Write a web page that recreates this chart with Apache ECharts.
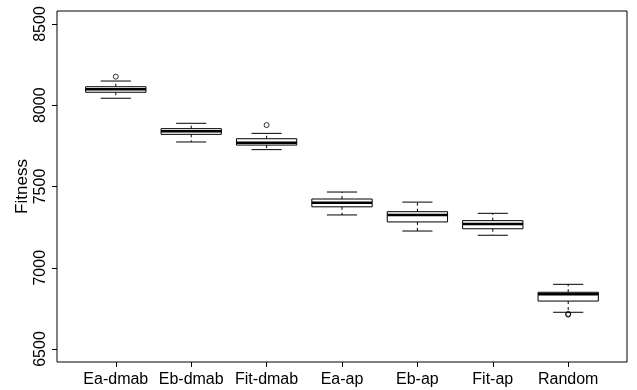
<!DOCTYPE html>
<html>
<head>
<meta charset="utf-8">
<script src="https://cdn.jsdelivr.net/npm/echarts@6/dist/echarts.min.js"></script>
<style>html,body{margin:0;padding:0;background:#fff}#c{width:637px;height:390px}</style>
</head>
<body>
<div id="c"></div>
<script>
// Data
const categories = ['Ea-dmab', 'Eb-dmab', 'Fit-dmab', 'Ea-ap', 'Eb-ap', 'Fit-ap', 'Random'];
const lowerWhisker = [8043, 7774, 7727, 7325, 7226, 7200, 6726];
const q1Values     = [8080, 7821, 7755, 7375, 7282, 7240, 6795];
const medianValues = [8098, 7840, 7770, 7400, 7325, 7270, 6837];
const q3Values     = [8114, 7856, 7794, 7423, 7345, 7290, 6849];
const upperWhisker = [8149, 7889, 7827, 7466, 7404, 7335, 6898];
const outlierCat   = [1, 3, 7, 7];
const outlierVal   = [8176, 7878, 6711, 6716];
const yTicks = [6500, 7000, 7500, 8000, 8500];
const xTicks = [1, 2, 3, 4, 5, 6, 7];

const boxData = categories.map((c, i) => [i + 1, lowerWhisker[i], q1Values[i], medianValues[i], q3Values[i], upperWhisker[i]]);
const outlierData = outlierCat.map((c, i) => [c, outlierVal[i]]);

const FONT = '"Liberation Sans", Arial, sans-serif';

function renderBox(params, api) {
  const x = api.value(0);
  const lo = api.coord([x, api.value(1)]);
  const q1 = api.coord([x, api.value(2)]);
  const md = api.coord([x, api.value(3)]);
  const q3 = api.coord([x, api.value(4)]);
  const hi = api.coord([x, api.value(5)]);
  const bw = api.size([0.8, 0])[0];
  const cw = bw / 2;
  const cx = lo[0];
  const black = '#000';
  return {
    type: 'group',
    children: [
      { type: 'line', shape: { x1: cx, y1: q3[1], x2: cx, y2: hi[1] }, style: { stroke: black, lineWidth: 1, lineDash: [3, 3] } },
      { type: 'line', shape: { x1: cx, y1: q1[1], x2: cx, y2: lo[1] }, style: { stroke: black, lineWidth: 1, lineDash: [3, 3] } },
      { type: 'line', shape: { x1: cx - cw / 2, y1: hi[1], x2: cx + cw / 2, y2: hi[1] }, style: { stroke: black, lineWidth: 1 } },
      { type: 'line', shape: { x1: cx - cw / 2, y1: lo[1], x2: cx + cw / 2, y2: lo[1] }, style: { stroke: black, lineWidth: 1 } },
      { type: 'rect', shape: { x: cx - bw / 2, y: q3[1], width: bw, height: q1[1] - q3[1] }, style: { fill: '#fff', stroke: black, lineWidth: 1 } },
      { type: 'line', shape: { x1: cx - bw / 2, y1: md[1], x2: cx + bw / 2, y2: md[1] }, style: { stroke: black, lineWidth: 2.5 } }
    ]
  };
}

const chart = echarts.init(document.getElementById('c'), null, { renderer: 'canvas' });
chart.setOption({
  animation: false,
  backgroundColor: '#fff',
  grid: { left: 57, right: 10, top: 11, bottom: 28, show: true, borderColor: '#000', borderWidth: 1, backgroundColor: 'transparent' },
  xAxis: {
    type: 'value', min: 0.22, max: 7.78,
    splitLine: { show: false },
    axisLine: { show: false },
    axisTick: { show: true, length: 5, lineStyle: { color: '#000' }, customValues: xTicks },
    axisLabel: { color: '#000', fontFamily: FONT, fontSize: 16, margin: 10, customValues: xTicks,
      formatter: v => categories[Math.round(v) - 1] || '' }
  },
  yAxis: {
    type: 'value', min: 6420, max: 8580,
    name: 'Fitness', nameLocation: 'middle', nameGap: 26, nameMoveOverlap: false,
    nameTextStyle: { color: '#000', fontFamily: FONT, fontSize: 17 },
    splitLine: { show: false },
    axisLine: { show: false },
    axisTick: { show: true, length: 5, lineStyle: { color: '#000' }, customValues: yTicks },
    axisLabel: { color: '#000', fontFamily: FONT, fontSize: 16, margin: 8, rotate: 90, customValues: yTicks,
      formatter: v => String(v) }
  },
  series: [
    { type: 'custom', renderItem: renderBox, data: boxData, encode: { x: 0, y: [1, 2, 3, 4, 5] }, z: 2 },
    { type: 'scatter', data: outlierData, symbol: 'circle', symbolSize: 5,
      itemStyle: { color: 'rgba(255,255,255,0)', borderColor: '#000', borderWidth: 1 }, z: 3 }
  ]
});
</script>
</body>
</html>
